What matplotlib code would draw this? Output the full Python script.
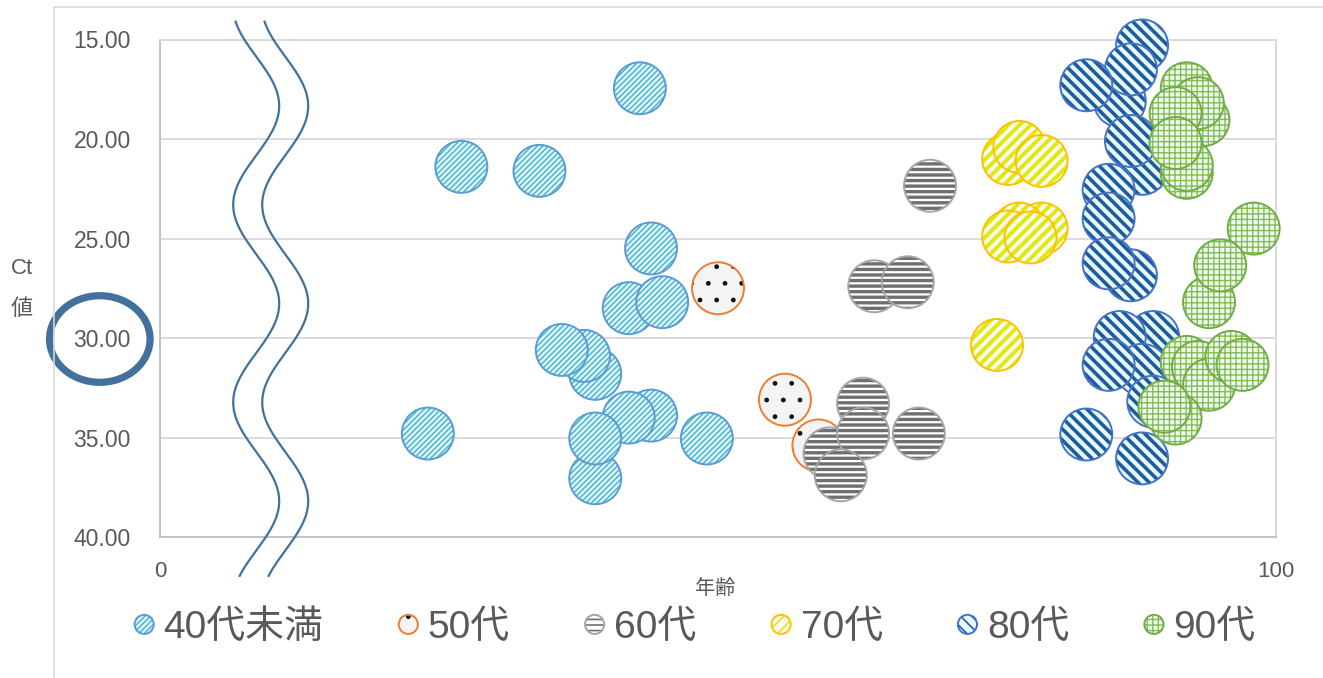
import numpy as np
import matplotlib
matplotlib.use("Agg")
import matplotlib.pyplot as plt
from matplotlib.patches import Ellipse
from matplotlib.lines import Line2D
from matplotlib.collections import PathCollection
from matplotlib.legend_handler import HandlerTuple
from matplotlib.ticker import FormatStrFormatter

plt.rcParams["font.family"] = ["Liberation Sans", "Noto Sans CJK JP"]
TXT = "#595959"

GROUPS = ["40代未満", "50代", "60代", "70代", "80代", "90代"]

AGE_U40 = [43, 27, 34, 44, 42, 45, 39, 38, 36, 44, 42, 39, 39, 49, 24]
CT_U40 = [17.45, 21.4, 21.6, 25.5, 28.5, 28.2, 31.8, 30.9, 30.6, 33.9, 34.0, 37.05, 35.05, 35.05, 34.8]

AGE_50 = [50, 56, 59]
CT_50 = [27.5, 33.1, 35.4]

AGE_60 = [69, 64, 67, 63, 60, 63, 68, 61]
CT_60 = [22.35, 27.4, 27.2, 33.3, 35.8, 34.8, 34.8, 36.9]

AGE_70 = [76, 77, 79, 79, 77, 76, 78, 75]
CT_70 = [21.0, 20.4, 21.1, 24.5, 24.5, 24.9, 24.95, 30.35]

AGE_80 = [86, 88, 87, 83, 88, 87, 85, 85, 87, 85, 87, 89, 86, 88, 85, 89, 83, 88]
CT_80 = [18.1, 15.3, 16.5, 17.3, 21.5, 20.1, 22.55, 24.0, 26.85, 26.25,
         30.35, 29.95, 29.95, 31.6, 31.35, 33.2, 34.85, 36.05]

AGE_90 = [92, 93.5, 93, 92, 92, 91, 91, 94, 98, 95, 92, 93, 94, 96, 97, 91, 90]
CT_90 = [17.45, 19.05, 18.2, 21.7, 21.3, 18.7, 20.2, 28.2, 24.5, 26.35,
         31.2, 31.45, 32.35, 30.95, 31.35, 34.05, 33.45]

SERIES = [(AGE_U40, CT_U40), (AGE_50, CT_50), (AGE_60, CT_60),
          (AGE_70, CT_70), (AGE_80, CT_80), (AGE_90, CT_90)]

# face, hatch colour, rim colour, hatch pattern, hatch width (pt)
STYLES = [
    ("#dff5fa", "#3fb3cc", "#5b9bd5", "//////", 1.0),
    ("#f4f4f4", "#111111", "#ed7d31", ".", 1.0),
    ("#ffffff", "#6f6f6f", "#a5a5a5", "---", 2.4),
    ("#fff8f0", "#dcea10", "#ffc000", "///", 2.8),
    ("#eaf9ff", "#1d5d9b", "#4472c4", "\\\\\\", 2.6),
    ("#effaf0", "#84bd55", "#70ad47", "+++", 1.0),
]

SIZE = 1400

fig = plt.figure(figsize=(13.23, 6.78), dpi=100)
ax = fig.add_axes([160 / 1323, 1 - 537 / 678, 1116 / 1323, 497.5 / 678])


def scatter_layers(target, x, y, style, s, **kw):
    face, hcol, rim, pat, hw = style
    with plt.rc_context({"hatch.linewidth": hw}):
        body = target.scatter(x, y, s=s, marker="o", facecolor=face, edgecolor=hcol,
                              linewidth=0, hatch=pat, **kw)
    if hasattr(body, "set_hatch_linewidth"):
        body.set_hatch_linewidth(hw)
    rim_ = target.scatter(x, y, s=s, marker="o", facecolor="none", edgecolor=rim,
                          linewidth=1.4, **kw)
    return body, rim_


for (ages, cts), st in zip(SERIES, STYLES):
    for a, c in zip(ages, cts):
        scatter_layers(ax, [a], [c], st, SIZE, zorder=3, clip_on=False)

ax.set_xlim(0, 100)
ax.set_ylim(40, 15)
ax.set_xticks([0, 100])
ax.set_yticks(np.arange(15, 41, 5))
ax.yaxis.set_major_formatter(FormatStrFormatter("%.2f"))
ax.grid(True, color="#d9d9d9", lw=1.3, zorder=0)
ax.set_axisbelow(True)
for side in ["left", "bottom"]:
    ax.spines[side].set_color("#bfbfbf")
    ax.spines[side].set_linewidth(1.3)
for side in ["top", "right"]:
    ax.spines[side].set_color("#d9d9d9")
    ax.spines[side].set_linewidth(1.3)
ax.tick_params(axis="y", length=0, pad=21, labelsize=16.5, labelcolor=TXT)
ax.tick_params(axis="x", length=0, pad=17, labelsize=16, labelcolor=TXT)

# axis break: two wavy strokes running down past the plot area
yy = np.linspace(14.1, 41.95, 400)
wave = 8.62 + 2.06 * np.cos(2 * np.pi * (yy - 18.34) / 9.93)
for dx in (0, 2.6):
    ax.plot(wave + dx, yy, color="#41719c", lw=1.6, clip_on=False, zorder=4)

fig.text(715 / 1323, 1 - 588 / 678, "年齢", ha="center", va="center", fontsize=14.5, color=TXT)
fig.text(22 / 1323, 1 - 289 / 678, "Ct\n値", ha="center", va="center", fontsize=16,
         color=TXT, linespacing=2.25)

# highlight ring on the 30.00 tick label
fig.add_artist(Ellipse((99.8 / 1323, 1 - 339 / 678), 100.5 / 1323, 86.6 / 678,
                       transform=fig.transFigure, fill=False, ec="#41719c", lw=5.2))

# chart frame
fig.add_artist(Line2D([54 / 1323, 54 / 1323], [0, 1 - 7 / 678], transform=fig.transFigure,
                      color="#d9d9d9", lw=1.2))
fig.add_artist(Line2D([54 / 1323, 1], [1 - 7 / 678, 1 - 7 / 678], transform=fig.transFigure,
                      color="#d9d9d9", lw=1.2))

handles = []
for st in STYLES:
    body, rim_ = scatter_layers(ax, [], [], st, 190)
    handles.append((body, rim_))

leg = fig.legend(handles, GROUPS, loc="center", bbox_to_anchor=(694 / 1323, 1 - 628 / 678),
                 ncol=6, frameon=False, fontsize=28, handler_map={tuple: HandlerTuple(ndivide=1)},
                 scatterpoints=1, scatteryoffsets=[0.5], handlelength=0.6, handletextpad=0.2,
                 columnspacing=1.88, labelcolor=TXT)

pat_to_style = {st[3]: st for st in STYLES}
for coll in leg.findobj(PathCollection):
    pat = coll.get_hatch()
    if pat in pat_to_style:
        st = pat_to_style[pat]
        coll.set_edgecolor(st[1])
        coll.set_linewidth(0)
        if hasattr(coll, "set_hatch_linewidth"):
            coll.set_hatch_linewidth(min(st[4], 1.2))

fig.savefig("out.png", dpi=100)
